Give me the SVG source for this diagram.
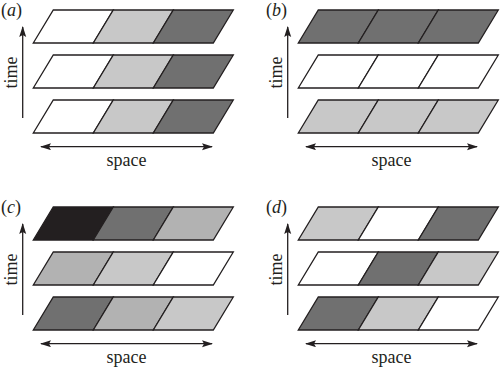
<svg xmlns="http://www.w3.org/2000/svg" width="500" height="368" viewBox="0 0 500 368">
<defs>
<marker id="ah" markerUnits="userSpaceOnUse" markerWidth="12" markerHeight="8" refX="10" refY="3.5" orient="auto-start-reverse">
<path d="M0,0 L11,3.5 L0,7 L2,3.5 z" fill="#231f20"/>
</marker>
<polygon id="cell" points="20,0 80,0 60,33 0,33" stroke="#231f20" stroke-width="1.3"/>
</defs>

<g id="panel-a" transform="translate(33.3,10)">
<g id="a-row1"><use href="#cell" fill="#ffffff" x="0"/><use href="#cell" fill="#c8c8c8" x="60"/><use href="#cell" fill="#707070" x="120"/></g>
<g id="a-row2" transform="translate(0,45)"><use href="#cell" fill="#ffffff" x="0"/><use href="#cell" fill="#c8c8c8" x="60"/><use href="#cell" fill="#707070" x="120"/></g>
<g id="a-row3" transform="translate(0,90)"><use href="#cell" fill="#ffffff" x="0"/><use href="#cell" fill="#c8c8c8" x="60"/><use href="#cell" fill="#707070" x="120"/></g>
</g>

<g id="panel-b" transform="translate(298.3,10)">
<g id="b-row1"><use href="#cell" fill="#707070" x="0"/><use href="#cell" fill="#707070" x="60"/><use href="#cell" fill="#707070" x="120"/></g>
<g id="b-row2" transform="translate(0,45)"><use href="#cell" fill="#ffffff" x="0"/><use href="#cell" fill="#ffffff" x="60"/><use href="#cell" fill="#ffffff" x="120"/></g>
<g id="b-row3" transform="translate(0,90)"><use href="#cell" fill="#c8c8c8" x="0"/><use href="#cell" fill="#c8c8c8" x="60"/><use href="#cell" fill="#c8c8c8" x="120"/></g>
</g>

<g id="panel-c" transform="translate(33.3,207)">
<g id="c-row1"><use href="#cell" fill="#231f20" x="0"/><use href="#cell" fill="#707070" x="60"/><use href="#cell" fill="#b2b2b2" x="120"/></g>
<g id="c-row2" transform="translate(0,45)"><use href="#cell" fill="#b2b2b2" x="0"/><use href="#cell" fill="#c8c8c8" x="60"/><use href="#cell" fill="#ffffff" x="120"/></g>
<g id="c-row3" transform="translate(0,90)"><use href="#cell" fill="#707070" x="0"/><use href="#cell" fill="#b2b2b2" x="60"/><use href="#cell" fill="#c8c8c8" x="120"/></g>
</g>

<g id="panel-d" transform="translate(298.3,207)">
<g id="d-row1"><use href="#cell" fill="#c8c8c8" x="0"/><use href="#cell" fill="#ffffff" x="60"/><use href="#cell" fill="#707070" x="120"/></g>
<g id="d-row2" transform="translate(0,45)"><use href="#cell" fill="#ffffff" x="0"/><use href="#cell" fill="#707070" x="60"/><use href="#cell" fill="#c8c8c8" x="120"/></g>
<g id="d-row3" transform="translate(0,90)"><use href="#cell" fill="#707070" x="0"/><use href="#cell" fill="#c8c8c8" x="60"/><use href="#cell" fill="#ffffff" x="120"/></g>
</g>

<g id="connectors" stroke="#231f20" stroke-width="1.3" fill="none">
<line x1="22.7" y1="118" x2="22.7" y2="27" marker-end="url(#ah)"/>
<line x1="41" y1="146.7" x2="212" y2="146.7" marker-start="url(#ah)" marker-end="url(#ah)"/>
<line x1="287.7" y1="118" x2="287.7" y2="27" marker-end="url(#ah)"/>
<line x1="306" y1="146.7" x2="477" y2="146.7" marker-start="url(#ah)" marker-end="url(#ah)"/>
<line x1="22.7" y1="315" x2="22.7" y2="224" marker-end="url(#ah)"/>
<line x1="41" y1="343.7" x2="212" y2="343.7" marker-start="url(#ah)" marker-end="url(#ah)"/>
<line x1="287.7" y1="315" x2="287.7" y2="224" marker-end="url(#ah)"/>
<line x1="306" y1="343.7" x2="477" y2="343.7" marker-start="url(#ah)" marker-end="url(#ah)"/>
</g>

<g id="labels" font-family="Liberation Serif, serif" font-size="18" fill="#231f20">
<text x="1" y="16">(<tspan font-style="italic">a</tspan>)</text>
<text x="266" y="16">(<tspan font-style="italic">b</tspan>)</text>
<text x="1" y="213">(<tspan font-style="italic">c</tspan>)</text>
<text x="266" y="213">(<tspan font-style="italic">d</tspan>)</text>
<text text-anchor="middle" transform="translate(17,72.5) rotate(-90)">time</text>
<text text-anchor="middle" transform="translate(282,72.5) rotate(-90)">time</text>
<text text-anchor="middle" transform="translate(17,269.5) rotate(-90)">time</text>
<text text-anchor="middle" transform="translate(282,269.5) rotate(-90)">time</text>
<text text-anchor="middle" x="126.5" y="166">space</text>
<text text-anchor="middle" x="391.5" y="166">space</text>
<text text-anchor="middle" x="126.5" y="363">space</text>
<text text-anchor="middle" x="391.5" y="363">space</text>
</g>
</svg>
